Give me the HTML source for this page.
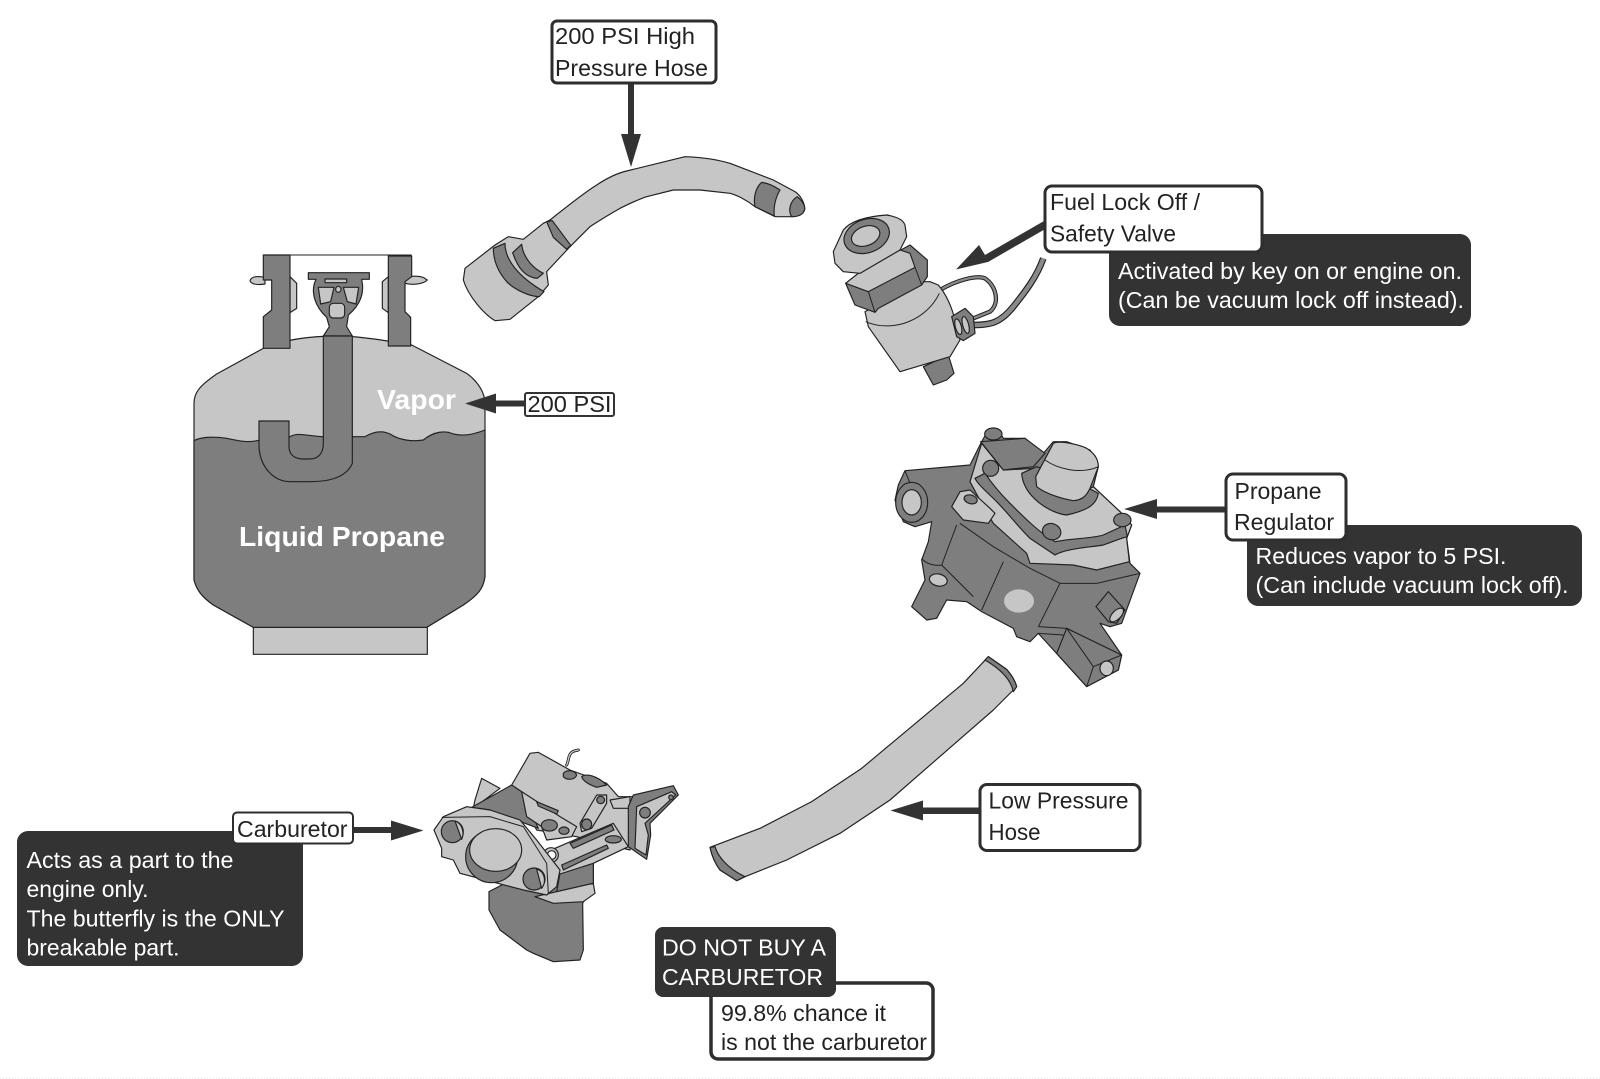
<!DOCTYPE html>
<html><head><meta charset="utf-8"><style>
html,body{margin:0;padding:0;background:#fff}
svg{display:block}
text{font-family:"Liberation Sans",sans-serif;font-size:23px;fill:#222}
.w{fill:#fff}
.b{font-weight:bold;font-size:28px;fill:#fff}
.l{fill:#c6c6c6;stroke:#222;stroke-width:3.5;stroke-linejoin:round}
.d{fill:#7e7e7e;stroke:#222;stroke-width:3.5;stroke-linejoin:round}
.n{fill:none;stroke:#222;stroke-width:3;stroke-linejoin:round}
.bx{fill:#fff;stroke:#2e2e2e;stroke-width:3}
.dk{fill:#333}
.ar{fill:#333}
</style></head><body>
<svg width="1600" height="1079" viewBox="0 0 1600 1079" xmlns="http://www.w3.org/2000/svg">
<rect width="1600" height="1079" fill="#fff"/>
<line x1="0" y1="1078" x2="1600" y2="1078" stroke="#e6e6e6" stroke-dasharray="1 2"/>

<!-- TANK -->
<g transform="translate(170,230) scale(.33333)">
<rect class="l" x="250" y="1192" width="522" height="81"/>
<path class="l" d="M240 152C245 138 265 138 285 142L285 162C265 165 245 165 240 152Z"/>
<path class="l" d="M768 148C760 138 730 136 705 142L705 160C730 166 760 162 772 150Z"/>
<path class="l" d="M360 140L380 160V235L360 248Z"/>
<path class="l" d="M655 140L637 155V235L655 248Z"/>
<path class="l" d="M72 1050V520C72 490 85 470 140 432L280 355C350 325 440 318 505 318C560 318 630 328 725 345L890 430C925 455 945 490 945 520V1040C940 1075 925 1095 880 1125L770 1192H250L130 1125C95 1100 80 1080 72 1050Z"/>
<path class="d" d="M72 632C90 622 125 618 170 625C205 632 235 640 270 630L360 620C385 605 420 620 460 620H545L585 620C610 605 635 600 660 612C690 632 730 635 760 630C790 605 825 600 850 612C880 620 915 612 945 600V1040C940 1075 925 1095 880 1125L770 1192H250L130 1125C95 1100 80 1080 72 1050Z"/>
<path class="n" d="M280 75H725" stroke-width="4"/>
<path class="d" d="M280 75H360V355H280V260L305 240V150L280 150Z"/>
<path class="d" d="M655 78H725V140L705 155V245L722 262V348H655Z"/>
<!-- valve -->
<path class="d" d="M415 128H598V148H575C585 190 570 225 535 255L530 290L547 318H460L478 290L470 262C435 230 420 185 438 148H415Z"/>
<rect class="l" x="465" y="147" width="65" height="11" stroke-width="2"/>
<path class="l" d="M445 172H492L482 215L452 222Z" stroke-width="2.5"/>
<path class="l" d="M520 172H566L558 222L532 215Z" stroke-width="2.5"/>
<ellipse class="l" cx="505" cy="178" rx="8" ry="9" stroke-width="2.5"/>
<rect class="l" x="478" y="220" width="46" height="44" rx="12" stroke-width="2.5"/>
<!-- dip tube -->
<path class="d" d="M460 318H547V700C530 740 480 755 420 755H360C310 755 270 710 267 650V573H357V650C357 675 375 687 400 687H420C445 687 460 670 460 640Z"/>
</g>
<text class="b" x="377" y="409" textLength="79" lengthAdjust="spacingAndGlyphs">Vapor</text>
<text class="b" x="239" y="546" textLength="206" lengthAdjust="spacingAndGlyphs">Liquid Propane</text>
<polygon class="ar" points="465,403.500 496,393.500 496,400.500 526,400.500 526,406.500 496,406.500 496,413.500"/>
<rect x="525" y="393" width="89" height="23" rx="2" fill="#fff" stroke="#333" stroke-width="2"/>
<text x="527.500" y="412" textLength="84" lengthAdjust="spacingAndGlyphs">200 PSI</text>

<!-- HIGH PRESSURE HOSE -->
<g transform="translate(440,10) scale(.33333)">
<path class="l" d="M330 630C380 590 430 550 470 525C500 505 530 490 560 483L735 440C790 442 830 448 870 460L1000 510L1065 545C1080 555 1095 578 1094 598C1090 614 1075 620 1050 620H1005L945 590C920 570 890 555 870 550L780 540H700L620 560C590 570 570 580 540 595C510 612 480 630 450 650L390 710Z"/>
<path class="d" d="M965 517C985 519 1005 530 1020 540C1005 565 1000 595 1003 618L945 590C940 565 945 535 965 517Z"/>
<path class="d" d="M1072 560C1086 572 1095 585 1094 598C1090 614 1075 620 1055 620C1042 600 1052 572 1072 560Z"/>
<path class="l" d="M330 630L390 710L320 785L325 825L295 860L210 928L165 932C135 915 85 860 70 810L75 775L165 705L205 680L250 688L310 640Z"/>
<path class="d" d="M160 715L195 700C195 750 235 800 312 845L298 860C270 860 225 840 200 815C170 780 160 745 160 715Z" stroke-width="3"/>
<path class="d" d="M218 728L245 703C250 745 280 775 310 790L292 805C262 803 235 780 218 728Z" stroke-width="3"/>
<path class="d" d="M320 635L337 632L392 706L380 718L340 682Z" stroke-width="3"/>
</g>
<polygon class="ar" points="628,84 634,84 634,134 641,134 631,167 621,134 628,134"/>
<rect class="bx" x="552" y="21" width="164" height="62" rx="5"/>
<text x="555" y="44" textLength="140" lengthAdjust="spacingAndGlyphs">200 PSI High</text>
<text x="555" y="76" textLength="153" lengthAdjust="spacingAndGlyphs">Pressure Hose</text>

<!-- LOCK OFF VALVE -->
<g transform="translate(800,170) scale(.33333)">
<path d="M420 360C470 330 530 315 555 325C590 350 600 400 570 425L520 445" fill="none" stroke="#222" stroke-width="13"/>
<path d="M420 360C470 330 530 315 555 325C590 350 600 400 570 425L520 445" fill="none" stroke="#8a8a8a" stroke-width="7"/>
<path d="M520 465C570 465 600 460 640 410C680 360 710 320 730 265" fill="none" stroke="#222" stroke-width="20"/>
<path d="M520 465C570 465 600 460 640 410C680 360 710 320 730 265" fill="none" stroke="#8a8a8a" stroke-width="13"/>
<path class="d" d="M370 590L445 555L462 610L440 630L400 645Z"/>
<path class="l" d="M195 425L235 405L365 335L390 335L415 345C440 375 455 410 465 450L480 510L450 560L300 605L205 470Z"/>
<path class="n" d="M197 455C280 490 380 450 418 370"/>
<path class="d" d="M455 440L495 415L520 440L525 490L490 512L470 500Z"/>
<ellipse class="l" cx="475" cy="470" rx="9" ry="24" stroke-width="2.5" transform="rotate(-15 475 470)"/>
<ellipse class="l" cx="497" cy="465" rx="9" ry="26" stroke-width="2.5" transform="rotate(-15 497 465)"/>
<path class="d" d="M137 340L175 310L330 225L382 270L382 320L365 345L235 415L225 427L165 405Z"/>
<path class="l" d="M137 340L175 310L300 240L330 250L345 292L205 365Z"/>
<path class="n" d="M205 365L225 427M345 292L365 345" stroke-width="2.5"/>
<path class="l" d="M100 245L130 180C150 155 190 140 260 135C290 140 310 150 315 165L320 200L300 240L180 310L130 305L105 280Z"/>
<ellipse class="d" cx="200" cy="198" rx="70" ry="50" transform="rotate(-20 200 198)"/>
<ellipse class="l" cx="197" cy="198" rx="44" ry="29" transform="rotate(-20 197 198)"/>
</g>
<polygon class="ar" points="956,269.500 979,245 985,255 1044,221 1047,228 988,262 992,261"/>
<rect class="dk" x="1109" y="234" width="362" height="92" rx="11"/>
<rect class="bx" x="1045" y="186" width="217" height="66" rx="7"/>
<text x="1050" y="210" textLength="150" lengthAdjust="spacingAndGlyphs">Fuel Lock Off /</text>
<text x="1050" y="241.500" textLength="126" lengthAdjust="spacingAndGlyphs">Safety Valve</text>
<text class="w" x="1118" y="279" textLength="344" lengthAdjust="spacingAndGlyphs">Activated by key on or engine on.</text>
<text class="w" x="1118" y="308" textLength="346" lengthAdjust="spacingAndGlyphs">(Can be vacuum lock off instead).</text>

<!-- REGULATOR -->
<g transform="translate(860,410) scale(.33333)">
<path class="d" d="M135 182L330 165L365 95L385 60H415L430 85L495 85L550 130L580 95H620L690 120L715 170L700 230L780 305L815 345L800 385L810 460L840 490L785 640L750 650L720 640L785 735L775 780L680 830L535 670L510 695L470 680L460 655L365 605L320 575L260 570L230 625L200 630L155 590L195 510L185 450L205 395L215 335L165 350L130 335L105 270L115 225Z"/>
<ellipse class="d" cx="400" cy="72" rx="26" ry="18"/>
<path class="l" d="M330 215L365 100L430 180L530 175L540 240L620 270L700 230L780 305L815 345L800 385L808 455L710 480L640 465L510 460L500 430L400 340L370 290Z"/>
<path class="d" d="M345 205C355 225 385 250 410 275C440 305 470 345 510 385L585 435C620 415 690 412 730 405C760 395 780 385 802 380L795 345L730 375C700 385 640 385 585 395C540 370 490 320 450 280C420 250 395 220 375 190Z"/>
<path class="d" d="M485 190L530 170L640 210L715 250C710 280 690 300 620 315C570 310 490 260 485 190Z"/>
<path class="l" d="M527 200L580 100C600 90 660 105 680 115C705 130 715 150 715 170L690 235C680 255 670 270 640 272C600 265 555 250 530 230Z"/>
<path class="n" d="M555 150C590 175 660 195 715 170" stroke-width="2"/>
<path class="d" d="M362 95L495 85L555 130L520 170L430 180Z"/>
<ellipse class="d" cx="392" cy="175" rx="24" ry="24"/>
<ellipse class="d" cx="575" cy="365" rx="28" ry="24" transform="rotate(20 575 365)"/>
<ellipse class="d" cx="787" cy="330" rx="26" ry="20"/>
<path class="l" d="M275 290L300 245L330 240L390 295L405 310L385 340L310 330Z"/>
<ellipse class="d" cx="332" cy="268" rx="20" ry="13" transform="rotate(15 332 268)"/>
<ellipse class="d" cx="155" cy="277" rx="48" ry="60"/>
<ellipse class="l" cx="155" cy="277" rx="29" ry="38" stroke-width="3"/>
<path class="n" d="M290 345L245 465M430 455L365 600M600 520L535 650M300 340L400 410L510 475L600 520L710 520L840 490M135 182L150 220M185 445C200 465 230 468 245 465L340 560" stroke-width="2.500"/>
<ellipse cx="477" cy="573" rx="45" ry="35" fill="#c6c6c6"/>
<ellipse class="l" cx="235" cy="510" rx="27" ry="18" stroke-width="2.500" transform="rotate(12 235 510)"/>
<path class="d" d="M620 655L785 735L775 780L680 830L590 730Z" stroke-width="2.500"/>
<path class="n" d="M620 655L700 770L680 830M700 770L785 735M535 650L620 655M535 670L610 675" stroke-width="2.500"/>
<ellipse class="l" cx="740" cy="775" rx="20" ry="22" stroke-width="2.500"/>
<path class="d" d="M708 590L745 545L795 600L770 640L745 635Z" stroke-width="2.500"/>
<ellipse class="l" cx="770" cy="615" rx="26" ry="13" stroke-width="2.500" transform="rotate(-45 770 615)"/>
</g>
<polygon class="ar" points="1124,509 1157,499 1157,506.500 1228,506.500 1228,512.500 1157,512.500 1157,519"/>
<rect class="dk" x="1247" y="525" width="335" height="81" rx="11"/>
<rect class="bx" x="1226" y="474" width="120" height="66" rx="7"/>
<text x="1240" y="499" textLength="87" lengthAdjust="spacingAndGlyphs" transform="translate(-5.500,0)">Propane</text>
<text x="1240" y="530" textLength="100" lengthAdjust="spacingAndGlyphs" transform="translate(-6,0)">Regulator</text>
<text class="w" x="1255.500" y="564" textLength="251" lengthAdjust="spacingAndGlyphs">Reduces vapor to 5 PSI.</text>
<text class="w" x="1255.500" y="593" textLength="313" lengthAdjust="spacingAndGlyphs">(Can include vacuum lock off).</text>

<!-- LOW PRESSURE HOSE -->
<g transform="translate(630,630) scale(.33333)">
<path class="l" d="M1075 80L1130 118C1145 135 1155 150 1160 170L1090 240L780 510L630 610L470 690L345 740L320 752L270 720C255 700 245 675 240 652L390 595L545 515L695 415L1000 160Z"/>
<path class="d" d="M1075 80L1130 118C1145 135 1155 150 1160 170L1150 185C1145 160 1125 125 1065 90Z" stroke-width="3"/>
<path class="d" d="M240 652L255 650C262 675 290 715 345 740L320 752L270 720C255 700 245 675 240 652Z" stroke-width="3"/>
</g>
<polygon class="ar" points="890.500,810.500 923,800.500 923,807.500 981,807.500 981,814 923,814 923,820.500"/>
<rect class="bx" x="980" y="784.500" width="160" height="66" rx="7"/>
<text x="988.500" y="808.500" textLength="140" lengthAdjust="spacingAndGlyphs">Low Pressure</text>
<text x="988.500" y="840" textLength="52" lengthAdjust="spacingAndGlyphs">Hose</text>

<!-- CARBURETOR -->
<g transform="translate(410,720) scale(.33333)">
<path class="d" d="M237 515V570L270 630L350 690L370 700L430 725L510 720L520 690L518 550L550 490V430L400 430Z"/>
<path class="l" d="M195 240L215 175L270 205L190 265Z"/>
<path class="l" d="M305 195L360 100L385 97L480 150L590 190L625 230L670 230L660 390L500 350L380 330Z"/>
<path class="d" d="M185 262L305 195L335 215L385 325L240 270Z"/>
<path class="l" d="M335 215L450 290L500 320L485 350L410 360L395 320L350 290Z"/>
<path class="d" d="M380 245L445 272L440 282L385 258Z" stroke-width="2.500"/>
<path class="d" d="M460 160C470 148 495 150 500 165C495 180 470 182 460 170Z" stroke-width="2.500"/>
<path class="d" d="M515 170C530 158 565 170 590 195L560 202C540 195 520 185 515 170Z" stroke-width="2.500"/>
<path class="l" d="M510 310L560 225H590V250L545 325L515 335Z"/>
<ellipse class="d" cx="572" cy="240" rx="12" ry="11" stroke-width="2.500"/>
<ellipse class="d" cx="530" cy="313" rx="15" ry="16" stroke-width="2.500"/>
<ellipse class="d" cx="418" cy="316" rx="24" ry="17" stroke-width="2.500"/>
<ellipse class="d" cx="462" cy="332" rx="15" ry="11" stroke-width="2.500"/>
<path class="l" d="M600 240L660 230V265L610 265Z" stroke-width="2.500"/>
<path class="d" d="M655 260L670 225L790 197L805 225L720 310L722 345L710 418L655 380Z"/>
<path class="l" d="M680 260L785 215L797 225L705 310L715 345L708 405L675 385Z" stroke-width="2.500"/>
<circle class="d" cx="705" cy="278" r="16" stroke-width="2.500"/>
<circle class="d" cx="783" cy="232" r="7" stroke-width="2.500"/>
<path class="d" d="M450 460L550 430V490L440 515Z"/>
<path class="l" d="M400 400L610 310L655 380L550 430L450 462L420 430Z"/>
<path class="d" d="M480 370L605 315L612 330L490 385Z" stroke-width="2.500"/>
<path class="d" d="M455 435L590 375L595 385L460 450Z" stroke-width="2.500"/>
<ellipse class="d" cx="610" cy="358" rx="24" ry="11" stroke-width="2.500"/>
<circle class="l" cx="423" cy="405" r="22" stroke-width="3"/>
<circle class="l" cx="425" cy="405" r="13" stroke-width="3" style="fill:#fff"/>
<path class="l" d="M375 530L440 515L550 490L555 520L520 545L430 550Z"/>
<path class="l" d="M72 330L100 290L170 260L240 270L330 300L380 360L450 450L440 500L410 525L340 510L150 460L130 420L95 410L95 385Z"/>
<path class="n" d="M95 292L240 290L340 320L410 430L415 520" stroke-width="2.500"/>
<ellipse class="d" cx="245" cy="410" rx="78" ry="78"/>
<ellipse class="l" cx="257" cy="390" rx="78" ry="64"/>
<circle class="d" cx="127" cy="335" r="33"/>
<path class="l" d="M135 303C155 310 165 335 155 358Z" stroke-width="2.500"/>
<circle class="d" cx="372" cy="477" r="33"/>
<path class="l" d="M380 447C405 455 410 485 395 505Z" stroke-width="2.500"/>
<path d="M470 135C480 115 470 95 505 90" fill="none" stroke="#222" stroke-width="9" stroke-linecap="round"/>
<path d="M470 135C480 115 470 95 505 90" fill="none" stroke="#c6c6c6" stroke-width="4" stroke-linecap="round"/>
</g>
<polygon class="ar" points="350,827 391,827 391,820.500 423.500,830.500 391,840.500 391,833 350,833"/>
<rect class="dk" x="17" y="831" width="286" height="135" rx="11"/>
<rect x="233" y="812.500" width="120" height="31" rx="4" fill="#fff" stroke="#2e2e2e" stroke-width="2"/>
<text x="237" y="837" textLength="110.500" lengthAdjust="spacingAndGlyphs">Carburetor</text>
<text class="w" x="26.500" y="868" textLength="207" lengthAdjust="spacingAndGlyphs">Acts as a part to the</text>
<text class="w" x="26.500" y="897" textLength="122" lengthAdjust="spacingAndGlyphs">engine only.</text>
<text class="w" x="26.500" y="926.500" textLength="258" lengthAdjust="spacingAndGlyphs">The butterfly is the ONLY</text>
<text class="w" x="26.500" y="955.500" textLength="153" lengthAdjust="spacingAndGlyphs">breakable part.</text>

<!-- DO NOT BUY -->
<rect x="711" y="983" width="222" height="76" rx="7" fill="#fff" stroke="#2e2e2e" stroke-width="3.500"/>
<rect class="dk" x="655" y="927" width="181" height="70" rx="8"/>
<text class="w" x="662" y="955.500" textLength="164" lengthAdjust="spacingAndGlyphs">DO NOT BUY A</text>
<text class="w" x="662" y="985" textLength="161" lengthAdjust="spacingAndGlyphs">CARBURETOR</text>
<text x="721" y="1021" textLength="165" lengthAdjust="spacingAndGlyphs">99.8% chance it</text>
<text x="721" y="1050" textLength="206" lengthAdjust="spacingAndGlyphs">is not the carburetor</text>
</svg>
</body></html>
